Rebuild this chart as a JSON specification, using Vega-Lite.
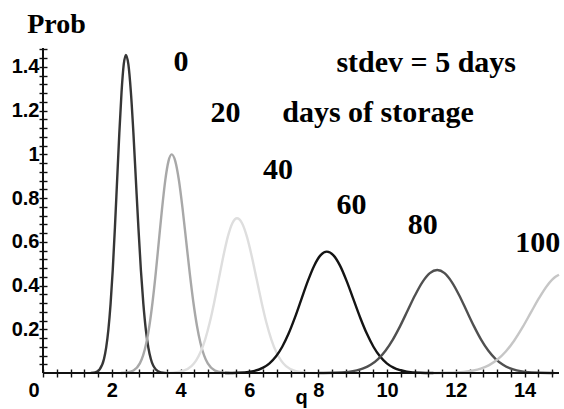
{
  "$schema": "https://vega.github.io/schema/vega-lite/v6.json",
  "width": 516,
  "height": 325,
  "autosize": {"type": "none"},
  "padding": {"left": 43, "top": 48, "right": 5, "bottom": 36},
  "background": "white",
  "config": {"view": {"stroke": null}},
  "datasets": {
    "curves": [
      {"days": "0", "q": 1.39, "prob": 0.0005},
      {"days": "0", "q": 1.518, "prob": 0.0032},
      {"days": "0", "q": 1.645, "prob": 0.0162},
      {"days": "0", "q": 1.773, "prob": 0.0639},
      {"days": "0", "q": 1.836, "prob": 0.1158},
      {"days": "0", "q": 1.9, "prob": 0.1969},
      {"days": "0", "q": 1.964, "prob": 0.3147},
      {"days": "0", "q": 2.028, "prob": 0.4724},
      {"days": "0", "q": 2.091, "prob": 0.6661},
      {"days": "0", "q": 2.155, "prob": 0.8825},
      {"days": "0", "q": 2.219, "prob": 1.0982},
      {"days": "0", "q": 2.283, "prob": 1.284},
      {"days": "0", "q": 2.346, "prob": 1.4102},
      {"days": "0", "q": 2.41, "prob": 1.455},
      {"days": "0", "q": 2.483, "prob": 1.4102},
      {"days": "0", "q": 2.555, "prob": 1.284},
      {"days": "0", "q": 2.628, "prob": 1.0982},
      {"days": "0", "q": 2.7, "prob": 0.8825},
      {"days": "0", "q": 2.773, "prob": 0.6661},
      {"days": "0", "q": 2.845, "prob": 0.4724},
      {"days": "0", "q": 2.918, "prob": 0.3147},
      {"days": "0", "q": 2.99, "prob": 0.1969},
      {"days": "0", "q": 3.063, "prob": 0.1158},
      {"days": "0", "q": 3.135, "prob": 0.0639},
      {"days": "0", "q": 3.28, "prob": 0.0162},
      {"days": "0", "q": 3.425, "prob": 0.0032},
      {"days": "0", "q": 3.57, "prob": 0.0005},

      {"days": "20", "q": 2.26, "prob": 0.0003},
      {"days": "20", "q": 2.445, "prob": 0.0022},
      {"days": "20", "q": 2.63, "prob": 0.0111},
      {"days": "20", "q": 2.815, "prob": 0.0439},
      {"days": "20", "q": 2.908, "prob": 0.0796},
      {"days": "20", "q": 3.0, "prob": 0.1353},
      {"days": "20", "q": 3.093, "prob": 0.2163},
      {"days": "20", "q": 3.185, "prob": 0.3247},
      {"days": "20", "q": 3.278, "prob": 0.4578},
      {"days": "20", "q": 3.37, "prob": 0.6065},
      {"days": "20", "q": 3.463, "prob": 0.7548},
      {"days": "20", "q": 3.555, "prob": 0.8825},
      {"days": "20", "q": 3.648, "prob": 0.9692},
      {"days": "20", "q": 3.74, "prob": 1.0},
      {"days": "20", "q": 3.845, "prob": 0.9692},
      {"days": "20", "q": 3.95, "prob": 0.8825},
      {"days": "20", "q": 4.055, "prob": 0.7548},
      {"days": "20", "q": 4.16, "prob": 0.6065},
      {"days": "20", "q": 4.265, "prob": 0.4578},
      {"days": "20", "q": 4.37, "prob": 0.3247},
      {"days": "20", "q": 4.475, "prob": 0.2163},
      {"days": "20", "q": 4.58, "prob": 0.1353},
      {"days": "20", "q": 4.685, "prob": 0.0796},
      {"days": "20", "q": 4.79, "prob": 0.0439},
      {"days": "20", "q": 5.0, "prob": 0.0111},
      {"days": "20", "q": 5.21, "prob": 0.0022},
      {"days": "20", "q": 5.42, "prob": 0.0003},

      {"days": "40", "q": 3.52, "prob": 0.0002},
      {"days": "40", "q": 3.785, "prob": 0.0016},
      {"days": "40", "q": 4.05, "prob": 0.0079},
      {"days": "40", "q": 4.315, "prob": 0.0311},
      {"days": "40", "q": 4.448, "prob": 0.0564},
      {"days": "40", "q": 4.58, "prob": 0.0958},
      {"days": "40", "q": 4.713, "prob": 0.1531},
      {"days": "40", "q": 4.845, "prob": 0.2299},
      {"days": "40", "q": 4.978, "prob": 0.3241},
      {"days": "40", "q": 5.11, "prob": 0.4294},
      {"days": "40", "q": 5.243, "prob": 0.5344},
      {"days": "40", "q": 5.375, "prob": 0.6248},
      {"days": "40", "q": 5.508, "prob": 0.6862},
      {"days": "40", "q": 5.64, "prob": 0.708},
      {"days": "40", "q": 5.783, "prob": 0.6862},
      {"days": "40", "q": 5.925, "prob": 0.6248},
      {"days": "40", "q": 6.068, "prob": 0.5344},
      {"days": "40", "q": 6.21, "prob": 0.4294},
      {"days": "40", "q": 6.353, "prob": 0.3241},
      {"days": "40", "q": 6.495, "prob": 0.2299},
      {"days": "40", "q": 6.638, "prob": 0.1531},
      {"days": "40", "q": 6.78, "prob": 0.0958},
      {"days": "40", "q": 6.923, "prob": 0.0564},
      {"days": "40", "q": 7.065, "prob": 0.0311},
      {"days": "40", "q": 7.35, "prob": 0.0079},
      {"days": "40", "q": 7.635, "prob": 0.0016},
      {"days": "40", "q": 7.92, "prob": 0.0002},

      {"days": "60", "q": 5.29, "prob": 0.0002},
      {"days": "60", "q": 5.66, "prob": 0.0012},
      {"days": "60", "q": 6.03, "prob": 0.0062},
      {"days": "60", "q": 6.4, "prob": 0.0244},
      {"days": "60", "q": 6.585, "prob": 0.0442},
      {"days": "60", "q": 6.77, "prob": 0.0751},
      {"days": "60", "q": 6.955, "prob": 0.12},
      {"days": "60", "q": 7.14, "prob": 0.1802},
      {"days": "60", "q": 7.325, "prob": 0.2541},
      {"days": "60", "q": 7.51, "prob": 0.3366},
      {"days": "60", "q": 7.695, "prob": 0.4189},
      {"days": "60", "q": 7.88, "prob": 0.4898},
      {"days": "60", "q": 8.065, "prob": 0.5379},
      {"days": "60", "q": 8.25, "prob": 0.555},
      {"days": "60", "q": 8.444, "prob": 0.5379},
      {"days": "60", "q": 8.638, "prob": 0.4898},
      {"days": "60", "q": 8.831, "prob": 0.4189},
      {"days": "60", "q": 9.025, "prob": 0.3366},
      {"days": "60", "q": 9.219, "prob": 0.2541},
      {"days": "60", "q": 9.413, "prob": 0.1802},
      {"days": "60", "q": 9.606, "prob": 0.12},
      {"days": "60", "q": 9.8, "prob": 0.0751},
      {"days": "60", "q": 9.994, "prob": 0.0442},
      {"days": "60", "q": 10.188, "prob": 0.0244},
      {"days": "60", "q": 10.575, "prob": 0.0062},
      {"days": "60", "q": 10.963, "prob": 0.0012},
      {"days": "60", "q": 11.35, "prob": 0.0002},

      {"days": "80", "q": 8.02, "prob": 0.0002},
      {"days": "80", "q": 8.45, "prob": 0.001},
      {"days": "80", "q": 8.88, "prob": 0.0052},
      {"days": "80", "q": 9.31, "prob": 0.0207},
      {"days": "80", "q": 9.525, "prob": 0.0375},
      {"days": "80", "q": 9.74, "prob": 0.0637},
      {"days": "80", "q": 9.955, "prob": 0.1019},
      {"days": "80", "q": 10.17, "prob": 0.1529},
      {"days": "80", "q": 10.385, "prob": 0.2156},
      {"days": "80", "q": 10.6, "prob": 0.2857},
      {"days": "80", "q": 10.815, "prob": 0.3555},
      {"days": "80", "q": 11.03, "prob": 0.4157},
      {"days": "80", "q": 11.245, "prob": 0.4565},
      {"days": "80", "q": 11.46, "prob": 0.471},
      {"days": "80", "q": 11.673, "prob": 0.4565},
      {"days": "80", "q": 11.885, "prob": 0.4157},
      {"days": "80", "q": 12.098, "prob": 0.3555},
      {"days": "80", "q": 12.31, "prob": 0.2857},
      {"days": "80", "q": 12.523, "prob": 0.2156},
      {"days": "80", "q": 12.735, "prob": 0.1529},
      {"days": "80", "q": 12.948, "prob": 0.1019},
      {"days": "80", "q": 13.16, "prob": 0.0637},
      {"days": "80", "q": 13.373, "prob": 0.0375},
      {"days": "80", "q": 13.585, "prob": 0.0207},
      {"days": "80", "q": 14.01, "prob": 0.0052},
      {"days": "80", "q": 14.435, "prob": 0.001},
      {"days": "80", "q": 14.86, "prob": 0.0002},

      {"days": "100", "q": 11.27, "prob": 0.0002},
      {"days": "100", "q": 11.755, "prob": 0.001},
      {"days": "100", "q": 12.24, "prob": 0.0051},
      {"days": "100", "q": 12.725, "prob": 0.02},
      {"days": "100", "q": 12.968, "prob": 0.0362},
      {"days": "100", "q": 13.21, "prob": 0.0616},
      {"days": "100", "q": 13.453, "prob": 0.0984},
      {"days": "100", "q": 13.695, "prob": 0.1477},
      {"days": "100", "q": 13.938, "prob": 0.2083},
      {"days": "100", "q": 14.18, "prob": 0.276},
      {"days": "100", "q": 14.423, "prob": 0.3434},
      {"days": "100", "q": 14.665, "prob": 0.4015},
      {"days": "100", "q": 14.908, "prob": 0.441},
      {"days": "100", "q": 15.0, "prob": 0.4496}
    ],
    "labels": [
      {"text": "0", "q": 4.01, "prob": 1.38},
      {"text": "20", "q": 5.305, "prob": 1.148},
      {"text": "40", "q": 6.83, "prob": 0.889},
      {"text": "60", "q": 8.97, "prob": 0.725},
      {"text": "80", "q": 11.04, "prob": 0.638},
      {"text": "100", "q": 14.38, "prob": 0.554},
      {"text": "stdev = 5 days", "q": 11.14, "prob": 1.377},
      {"text": "days of storage", "q": 9.74, "prob": 1.148}
    ]
  },
  "layer": [
    {
      "data": {"name": "curves"},
      "mark": {"type": "line", "interpolate": "monotone", "strokeWidth": 2.4},
      "encoding": {
        "x": {
          "field": "q",
          "type": "quantitative",
          "scale": {"domain": [0, 15], "nice": false, "zero": false},
          "axis": {
            "title": "q",
            "titleFont": "Liberation Sans",
            "titleFontSize": 20,
            "titleFontWeight": "bold",
            "titleColor": "black",
            "titleX": 258,
            "titleY": 34,
            "titleAlign": "center",
            "titleBaseline": "alphabetic",
            "values": [0, 0.4, 0.8, 1.2, 1.6, 2, 2.4, 2.8, 3.2, 3.6, 4, 4.4, 4.8, 5.2, 5.6, 6, 6.4, 6.8, 7.2, 7.6, 8, 8.4, 8.8, 9.2, 9.6, 10, 10.4, 10.8, 11.2, 11.6, 12, 12.4, 12.8, 13.2, 13.6, 14, 14.4, 14.8],
            "tickCount": 200,
            "domain": false,
            "grid": false,
            "offset": -4,
            "tickSize": 8,
            "tickColor": "#111111",
            "tickWidth": 1.4,
            "labelExpr": "datum.value % 2 == 0 ? format(datum.value, 'd') : ''",
            "labelFont": "Liberation Sans",
            "labelFontSize": 20,
            "labelFontWeight": "bold",
            "labelColor": "black",
            "labelPadding": 3,
            "labelFlush": false,
            "labelOverlap": false,
            "labelBound": false,
            "labelAlign": {"condition": {"test": "datum.value == 0", "value": "right"}, "value": "center"},
            "labelOffset": {"condition": {"test": "datum.value == 0", "value": -4}, "value": 0}
          }
        },
        "y": {
          "field": "prob",
          "type": "quantitative",
          "scale": {"domain": [0, 1.4865], "nice": false},
          "axis": {
            "title": "Prob",
            "titleFont": "Liberation Serif",
            "titleFontWeight": "bold",
            "titleFontSize": 28,
            "titleColor": "black",
            "titleAngle": 0,
            "titleX": 9,
            "titleY": -15.5,
            "titleAlign": "center",
            "titleBaseline": "alphabetic",
            "values": [0.04, 0.08, 0.12, 0.16, 0.2, 0.24, 0.28, 0.32, 0.36, 0.4, 0.44, 0.48, 0.52, 0.56, 0.6, 0.64, 0.68, 0.72, 0.76, 0.8, 0.84, 0.88, 0.92, 0.96, 1, 1.04, 1.08, 1.12, 1.16, 1.2, 1.24, 1.28, 1.32, 1.36, 1.4, 1.44, 1.48],
            "tickCount": 200,
            "domain": false,
            "grid": false,
            "offset": -4,
            "tickSize": 8,
            "tickColor": "#111111",
            "tickWidth": 1.4,
            "labelExpr": "abs(datum.value * 5 - round(datum.value * 5)) < 0.001 ? format(datum.value, '~g') : ''",
            "labelFont": "Liberation Sans",
            "labelFontSize": 20,
            "labelFontWeight": "bold",
            "labelColor": "black",
            "labelPadding": 0,
            "labelOverlap": false,
            "labelBound": false,
            "labelFlush": false
          }
        },
        "color": {
          "field": "days",
          "type": "nominal",
          "scale": {"domain": ["0", "20", "40", "60", "80", "100"], "range": ["#363636", "#a8a8a8", "#dedede", "#141414", "#505050", "#c6c6c6"]},
          "legend": null
        }
      }
    },
    {
      "data": {"values": [{}]},
      "mark": {"type": "rule", "color": "#111111", "strokeWidth": 2},
      "encoding": {"y": {"datum": 0}}
    },
    {
      "data": {"values": [{}]},
      "mark": {"type": "rule", "color": "#111111", "strokeWidth": 2},
      "encoding": {"x": {"datum": 0}}
    },
    {
      "data": {"name": "labels"},
      "mark": {"type": "text", "font": "Liberation Serif", "fontWeight": "bold", "fontSize": 30, "align": "center", "baseline": "alphabetic", "color": "black"},
      "encoding": {
        "x": {"field": "q", "type": "quantitative"},
        "y": {"field": "prob", "type": "quantitative"},
        "text": {"field": "text"}
      }
    }
  ]
}
